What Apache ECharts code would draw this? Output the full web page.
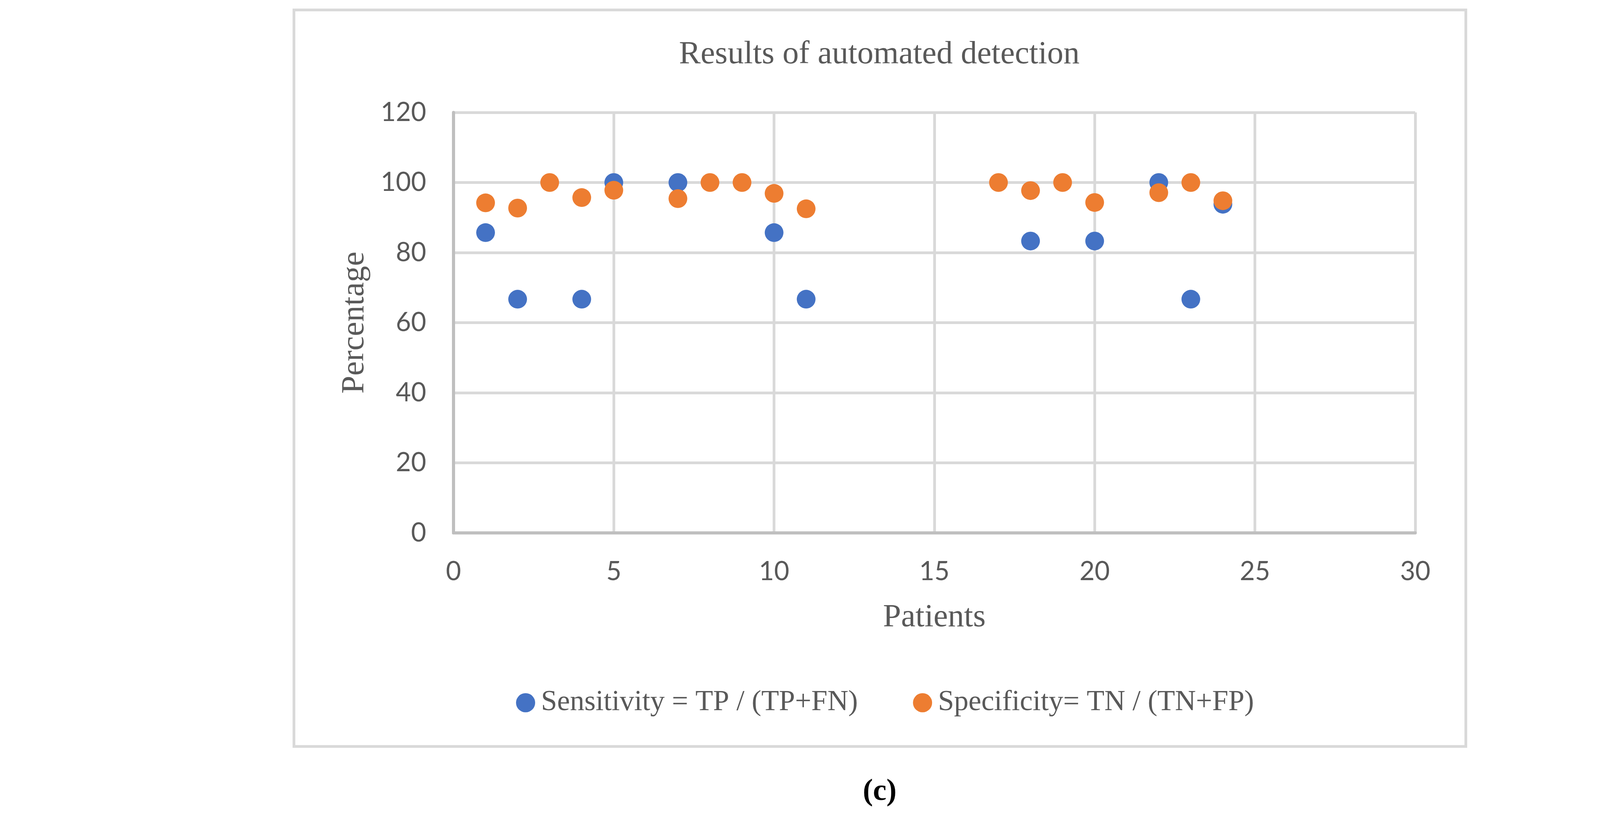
<!DOCTYPE html>
<html>
<head>
<meta charset="utf-8">
<style>
  html, body { margin: 0; padding: 0; background: #ffffff; }
  #chart { width: 4590px; height: 2085px; }
</style>
<script src="https://cdn.jsdelivr.net/npm/echarts@6/dist/echarts.min.js"></script>
</head>
<body>
<div id="chart"></div>
<script>
// ---- Data ----
const titleText = 'Results of automated detection';
const xAxisName = 'Patients';
const yAxisName = 'Percentage';
const sensitivityName = 'Sensitivity = TP / (TP+FN)';
const specificityName = 'Specificity= TN / (TN+FP)';

const sensitivityPatients = [1, 2, 4, 5, 7, 10, 11, 18, 20, 22, 23, 24];
const sensitivityValues   = [85.7, 66.7, 66.7, 100, 100, 85.7, 66.7, 83.3, 83.3, 100, 66.7, 93.8];

const specificityPatients = [1, 2, 3, 4, 5, 7, 8, 9, 10, 11, 17, 18, 19, 20, 22, 23, 24];
const specificityValues   = [94.2, 92.7, 100, 95.7, 97.8, 95.4, 100, 100, 96.9, 92.5, 100, 97.7, 100, 94.3, 97.1, 100, 94.8];

const xMin = 0, xMax = 30, xStep = 5;
const yMin = 0, yMax = 120, yStep = 20;

// ---- Chart ----
const chart = echarts.init(document.getElementById('chart'));
const textGray = '#595959';
const serif = '"Liberation Serif", "Times New Roman", serif';
const sans = 'Lato, "Open Sans", sans-serif';

function pairs(xs, ys) { return xs.map((x, i) => [x, ys[i]]); }

chart.setOption({
  backgroundColor: '#ffffff',
  animation: false,
  title: {
    text: titleText,
    left: 2246,
    top: 94,
    textAlign: 'center',
    textStyle: { fontFamily: serif, fontSize: 83, fontWeight: 'normal', color: textGray }
  },
  grid: { left: 1161, top: 288, width: 2462, height: 1077 },
  legend: {
    left: 1316,
    top: 1758,
    itemWidth: 49,
    itemHeight: 49,
    itemGap: 141,
    icon: 'circle',
    textStyle: { fontFamily: serif, fontSize: 74, color: textGray, padding: [0, 0, 0, 10] },
    data: [sensitivityName, specificityName]
  },
  xAxis: {
    type: 'value',
    min: xMin, max: xMax, interval: xStep,
    name: xAxisName,
    nameLocation: 'middle',
    nameGap: 176,
    nameTextStyle: { fontFamily: serif, fontSize: 83, color: textGray },
    axisLine: { show: true, onZero: false, lineStyle: { color: '#BFBFBF', width: 8 } },
    axisTick: { show: false },
    axisLabel: { margin: 66, fontFamily: sans, fontSize: 67, color: textGray },
    splitLine: { show: true, lineStyle: { color: '#D9D9D9', width: 7 } }
  },
  yAxis: {
    type: 'value',
    min: yMin, max: yMax, interval: yStep,
    name: yAxisName,
    nameLocation: 'middle',
    nameGap: 211,
    nameTextStyle: { fontFamily: serif, fontSize: 83, color: textGray },
    axisLine: { show: true, onZero: false, lineStyle: { color: '#BFBFBF', width: 8 } },
    axisTick: { show: false },
    axisLabel: { margin: 70, fontFamily: sans, fontSize: 67, color: textGray },
    splitLine: { show: true, lineStyle: { color: '#D9D9D9', width: 7 } }
  },
  series: [
    {
      name: sensitivityName,
      type: 'scatter',
      symbol: 'circle',
      symbolSize: 48,
      itemStyle: { color: '#4472C4', opacity: 1 },
      data: pairs(sensitivityPatients, sensitivityValues)
    },
    {
      name: specificityName,
      type: 'scatter',
      symbol: 'circle',
      symbolSize: 48,
      itemStyle: { color: '#ED7D31', opacity: 1 },
      data: pairs(specificityPatients, specificityValues)
    }
  ],
  graphic: [
    {
      type: 'rect',
      silent: true,
      z: -10,
      shape: { x: 752.5, y: 25.5, width: 3000, height: 1886.5 },
      style: { fill: 'none', stroke: '#D9D9D9', lineWidth: 7 }
    },
    {
      type: 'text',
      silent: true,
      x: 2252,
      y: 2029,
      style: {
        text: '(c)',
        font: 'bold 78px "Liberation Serif", "Times New Roman", serif',
        fill: '#000000',
        align: 'center',
        verticalAlign: 'middle'
      }
    }
  ]
});
</script>
</body>
</html>
